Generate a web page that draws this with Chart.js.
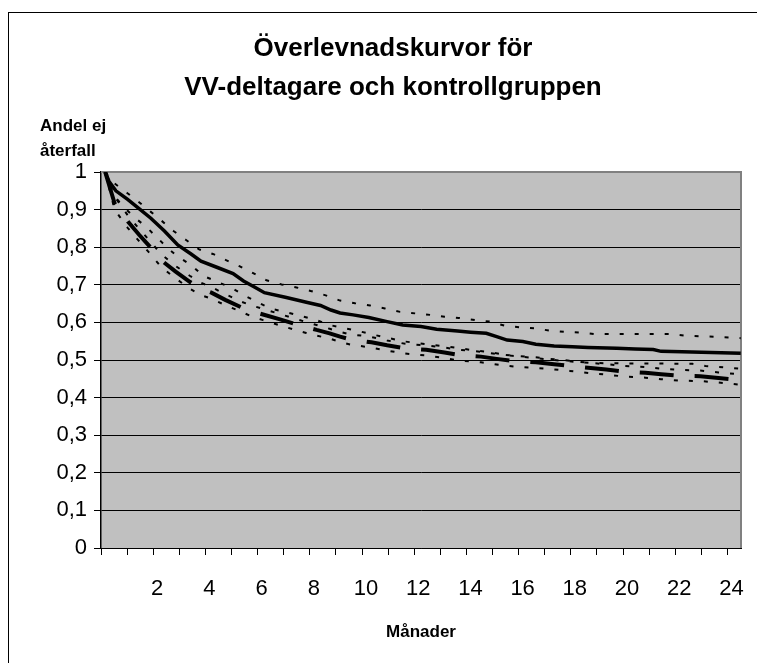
<!DOCTYPE html>
<html><head><meta charset="utf-8">
<script src="https://cdn.jsdelivr.net/npm/chart.js@4.4.0/dist/chart.umd.min.js"></script>
<style>
html,body{margin:0;padding:0;background:#fff;}
#wrap{position:relative;width:757px;height:663px;overflow:hidden;}
#frame{position:absolute;left:8px;top:12px;width:900px;height:900px;border-left:1px solid #000;border-top:1px solid #000;}
canvas{position:absolute;left:0;top:0;}
</style></head><body>
<div id="wrap"><div id="frame"></div><canvas id="c" width="757" height="663"></canvas></div>
<script>
// ---- text ----
const titleLines = ['Överlevnadskurvor för', 'VV-deltagare och kontrollgruppen'];
const yTitleLines = ['Andel ej', 'återfall'];
const xTitle = 'Månader';

// ---- ticks ----
const yTickValues = [0, 0.1, 0.2, 0.3, 0.4, 0.5, 0.6, 0.7, 0.8, 0.9, 1];
const yTickLabels = ['0', '0,1', '0,2', '0,3', '0,4', '0,5', '0,6', '0,7', '0,8', '0,9', '1'];
const xTickMonths = [0,1,2,3,4,5,6,7,8,9,10,11,12,13,14,15,16,17,18,19,20,21,22,23,24];
const xTickLabels = ['','','2','','4','','6','','8','','10','','12','','14','','16','','18','','20','','22','','24'];

// ---- VV-deltagare ----
const vvMonths = [0,0.15,0.41,0.86,1.31,1.75,2.27,2.78,3.29,3.67,4.3,4.9,5.3,5.7,6.1,6.9,7.75,8.25,8.65,9.0,9.5,10.1,10.8,11.4,12.1,12.7,13.5,14.0,14.6,15.0,15.4,16.0,16.5,17.2,17.9,18.5,19.6,20.3,21.0,21.3,22.1,24.35];
const vvSurvival = [1.0,0.975,0.95,0.927,0.902,0.877,0.843,0.806,0.782,0.763,0.746,0.73,0.71,0.695,0.679,0.667,0.653,0.645,0.633,0.625,0.62,0.613,0.602,0.593,0.589,0.582,0.577,0.574,0.571,0.562,0.553,0.549,0.542,0.537,0.535,0.533,0.531,0.529,0.528,0.523,0.522,0.518];

const vvUpperMonths = [0,0.35,0.83,1.31,1.75,2.2,2.62,3.1,3.6,4.13,4.65,5.16,5.67,6.18,6.76,7.33,7.91,8.45,9.0,9.57,10.15,10.72,11.3,11.87,12.45,13.0,13.55,14.17,14.75,15.33,15.9,16.48,17.05,17.6,18.2,18.75,21.7,22.2,23.9,24.35];
const vvUpper = [1.0,0.97,0.945,0.919,0.894,0.868,0.843,0.819,0.794,0.782,0.765,0.749,0.731,0.712,0.701,0.693,0.683,0.672,0.658,0.651,0.645,0.637,0.628,0.624,0.62,0.615,0.612,0.606,0.602,0.591,0.587,0.584,0.578,0.575,0.573,0.569,0.569,0.565,0.56,0.558];

const vvLowerMonths = [0,0.3,0.7,1.09,1.56,2.0,2.4,2.78,3.29,3.75,4.33,4.86,5.35,5.86,6.37,6.95,7.52,8.1,8.6,9.76,10.6,11.5,12.3,13.2,14.0,14.8,15.6,16.5,17.5,18.6,20.0,22.5,23.0,24.35];
const vvLower = [1.0,0.94,0.908,0.881,0.855,0.825,0.797,0.775,0.753,0.724,0.707,0.691,0.671,0.653,0.636,0.627,0.617,0.606,0.593,0.576,0.562,0.549,0.542,0.535,0.527,0.52,0.511,0.505,0.498,0.492,0.491,0.49,0.484,0.477];

// ---- Kontrollgruppen ----
const ctrlMonths = [0,0.36,0.87,1.3,1.77,2.15,2.7,3.24,3.65,4.07,4.6,5.22,5.6,6.05,6.7,7.27,7.7,8.1,8.6,9.0,9.38,9.8,10.2,10.8,11.5,12.3,13.0,13.6,14.4,15.0,15.7,16.5,17.2,17.8,18.6,19.2,19.9,20.7,21.3,22.0,22.8,23.5,24.35];
const ctrlSurvival = [1.0,0.917,0.868,0.833,0.797,0.765,0.735,0.708,0.69,0.679,0.66,0.64,0.63,0.621,0.608,0.596,0.588,0.58,0.571,0.562,0.555,0.551,0.547,0.539,0.531,0.527,0.52,0.513,0.509,0.503,0.497,0.494,0.489,0.484,0.479,0.475,0.469,0.466,0.462,0.458,0.457,0.452,0.446];
const ctrlUpper = [1.0,0.935,0.884,0.849,0.812,0.781,0.75,0.724,0.706,0.694,0.675,0.655,0.645,0.636,0.622,0.61,0.601,0.593,0.583,0.575,0.568,0.565,0.561,0.552,0.543,0.539,0.533,0.527,0.522,0.516,0.511,0.507,0.502,0.498,0.492,0.489,0.484,0.481,0.477,0.474,0.472,0.467,0.462];
const ctrlLower = [1.0,0.9,0.851,0.816,0.779,0.747,0.717,0.69,0.673,0.663,0.646,0.628,0.616,0.606,0.592,0.58,0.572,0.565,0.557,0.548,0.541,0.537,0.533,0.525,0.517,0.512,0.505,0.498,0.494,0.488,0.482,0.479,0.475,0.471,0.465,0.461,0.456,0.453,0.449,0.445,0.444,0.44,0.434];

const pts = (xs, ys) => xs.map((x, i) => ({x: x, y: ys[i]}));

const FONT = '"Liberation Sans", Arial, Helvetica, sans-serif';
Chart.defaults.font.family = FONT;
Chart.defaults.color = '#000';

const X_MIN = -0.16, X_MAX = 24.36, TICK_SHIFT = 0.16;

const dotted = {borderColor: '#000', borderWidth: 2, borderDash: [4, 11], pointRadius: 0, tension: 0, fill: false};

const plotBg = {
  id: 'plotBg',
  beforeDraw(chart) {
    const a = chart.chartArea, ctx = chart.ctx;
    ctx.save();
    ctx.fillStyle = '#C0C0C0';
    ctx.fillRect(a.left, a.top, a.right - a.left, a.bottom - a.top);
    ctx.restore();
  },
  beforeDatasetsDraw(chart) {
    const a = chart.chartArea, ctx = chart.ctx;
    ctx.save();
    ctx.strokeStyle = '#808080';
    ctx.lineWidth = 2;
    ctx.beginPath();
    ctx.moveTo(a.left, a.top);
    ctx.lineTo(a.right, a.top);
    ctx.lineTo(a.right, a.bottom);
    ctx.stroke();
    ctx.restore();
  },
  afterDraw(chart) {
    const ctx = chart.ctx;
    ctx.save();
    ctx.fillStyle = '#000';
    ctx.font = 'bold 17px ' + FONT;
    ctx.textAlign = 'left';
    ctx.textBaseline = 'middle';
    ctx.fillText(yTitleLines[0], 40, 126);
    ctx.fillText(yTitleLines[1], 40, 151);
    ctx.restore();
  }
};

new Chart(document.getElementById('c'), {
  type: 'line',
  data: {
    datasets: [
      Object.assign({label: 'VV-deltagare, övre gräns', data: pts(vvUpperMonths, vvUpper)}, dotted),
      Object.assign({label: 'VV-deltagare, undre gräns', data: pts(vvLowerMonths, vvLower)}, dotted),
      Object.assign({label: 'Kontrollgruppen, övre gräns', data: pts(ctrlMonths, ctrlUpper)}, dotted),
      Object.assign({label: 'Kontrollgruppen, undre gräns', data: pts(ctrlMonths, ctrlLower)}, dotted),
      {label: 'Kontrollgruppen', data: pts(ctrlMonths, ctrlSurvival), borderColor: '#000', borderWidth: 4, borderDash: [34, 21], pointRadius: 0, tension: 0, fill: false},
      {label: 'VV-deltagare', data: pts(vvMonths, vvSurvival), borderColor: '#000', borderWidth: 3.5, pointRadius: 0, tension: 0, fill: false}
    ]
  },
  options: {
    responsive: false,
    animation: false,
    layout: {padding: {top: 8, left: 45, right: 16, bottom: 0}},
    plugins: {
      legend: {display: false},
      tooltip: {enabled: false},
      title: {
        display: true,
        text: titleLines,
        font: {size: 26, weight: 'bold', lineHeight: 1.5},
        color: '#000',
        padding: {top: 21.5, bottom: 64.5}
      }
    },
    scales: {
      x: {
        type: 'linear',
        min: X_MIN,
        max: X_MAX,
        afterBuildTicks(scale) {
          scale.ticks = xTickMonths.map(m => ({value: m - TICK_SHIFT}));
        },
        afterFit(scale) {
          scale.height = 115;
          scale.paddingLeft = 0;
          scale.paddingRight = 0;
        },
        ticks: {
          autoSkip: false,
          maxRotation: 0,
          padding: 21,
          labelOffset: 4,
          font: {size: 22},
          color: '#000',
          callback: (v, i) => xTickLabels[i]
        },
        grid: {drawOnChartArea: false, drawTicks: true, tickLength: 7, tickColor: '#000', color: '#000'},
        border: {display: true, color: '#000', width: 1},
        title: {display: true, text: xTitle, font: {size: 17, weight: 'bold'}, color: '#000', padding: {top: 4, bottom: 20}}
      },
      y: {
        min: 0,
        max: 1,
        afterBuildTicks(scale) {
          scale.ticks = yTickValues.map(v => ({value: v}));
        },
        afterFit(scale) { scale.width = 56; },
        ticks: {
          padding: 7,
          font: {size: 22},
          color: '#000',
          callback: (v, i) => yTickLabels[i]
        },
        grid: {
          color: ctx => (ctx.tick && ctx.tick.value === 1) ? '#808080' : '#000',
          lineWidth: 1,
          tickLength: 7,
          tickColor: '#000'
        },
        border: {display: true, color: '#000', width: 1.5}
      }
    }
  },
  plugins: [plotBg]
});
</script>
</body></html>
